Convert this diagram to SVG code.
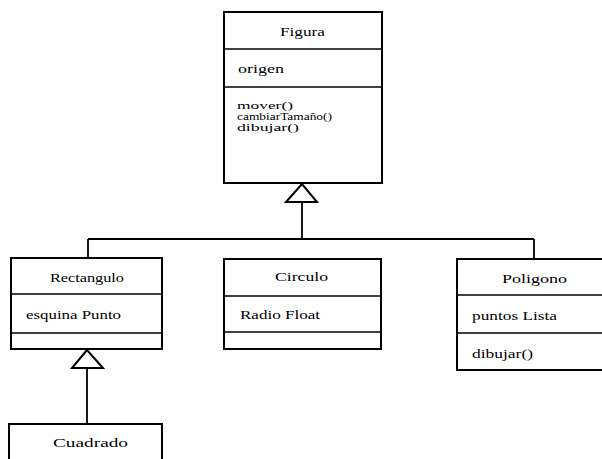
<svg xmlns="http://www.w3.org/2000/svg" width="602" height="459" viewBox="0 0 602 459">
<style>
.box{fill:#fff;stroke:#000;stroke-width:2}
.div{stroke:#000;stroke-width:1.6}
.t{font-family:"Liberation Serif","Times New Roman",Tinos,serif;font-size:11.5px;fill:#000}
.m{font-size:10px}
.ln{fill:none;stroke:#000;stroke-width:1.8}
.tri{fill:#fff;stroke:#000;stroke-width:2}
</style>
<rect width="602" height="459" fill="#fff"/>
<g id="connectors">
<path class="ln" d="M302,202 V239 M88,239 H534 M88,239 V258 M534,239 V259"/>
<path class="tri" d="M302,184 L286,202 L317,202 Z"/>
<path class="ln" d="M87,368 V424"/>
<path class="tri" d="M87,350 L72,368 L103,368 Z"/>
</g>
<g id="figura">
<rect class="box" x="224" y="12" width="158" height="171"/>
<line class="div" x1="224" y1="49" x2="382" y2="49"/>
<line class="div" x1="224" y1="87" x2="382" y2="87"/>
<text class="t" x="280" y="36" textLength="45" lengthAdjust="spacingAndGlyphs">Figura</text>
<text class="t" x="238" y="73" textLength="46" lengthAdjust="spacingAndGlyphs">origen</text>
<text class="t m" x="237" y="109" textLength="56" lengthAdjust="spacingAndGlyphs">mover()</text>
<text class="t m" x="237" y="120" textLength="95" lengthAdjust="spacingAndGlyphs">cambiarTamaño()</text>
<text class="t m" x="237" y="131" textLength="62" lengthAdjust="spacingAndGlyphs">dibujar()</text>
</g>
<g id="rectangulo">
<rect class="box" x="11" y="258" width="151" height="91"/>
<line class="div" x1="11" y1="294" x2="162" y2="294"/>
<line class="div" x1="11" y1="333" x2="162" y2="333"/>
<text class="t" x="50" y="282" textLength="74" lengthAdjust="spacingAndGlyphs">Rectangulo</text>
<text class="t" x="26" y="319" textLength="95" lengthAdjust="spacingAndGlyphs">esquina Punto</text>
</g>
<g id="circulo">
<rect class="box" x="224" y="259" width="157" height="90"/>
<line class="div" x1="224" y1="296" x2="381" y2="296"/>
<line class="div" x1="224" y1="332" x2="381" y2="332"/>
<text class="t" x="275" y="281" textLength="53" lengthAdjust="spacingAndGlyphs">Circulo</text>
<text class="t" x="240" y="319" textLength="80" lengthAdjust="spacingAndGlyphs">Radio Float</text>
</g>
<g id="poligono">
<rect class="box" x="457" y="259" width="156" height="111"/>
<line class="div" x1="457" y1="295" x2="613" y2="295"/>
<line class="div" x1="457" y1="333" x2="613" y2="333"/>
<text class="t" x="502" y="283" textLength="65" lengthAdjust="spacingAndGlyphs">Poligono</text>
<text class="t" x="472" y="320" textLength="85" lengthAdjust="spacingAndGlyphs">puntos Lista</text>
<text class="t" x="472" y="358" textLength="61" lengthAdjust="spacingAndGlyphs">dibujar()</text>
</g>
<g id="cuadrado">
<rect class="box" x="9" y="424" width="153" height="50"/>
<text class="t" x="53" y="447" textLength="75" lengthAdjust="spacingAndGlyphs">Cuadrado</text>
</g>
</svg>
